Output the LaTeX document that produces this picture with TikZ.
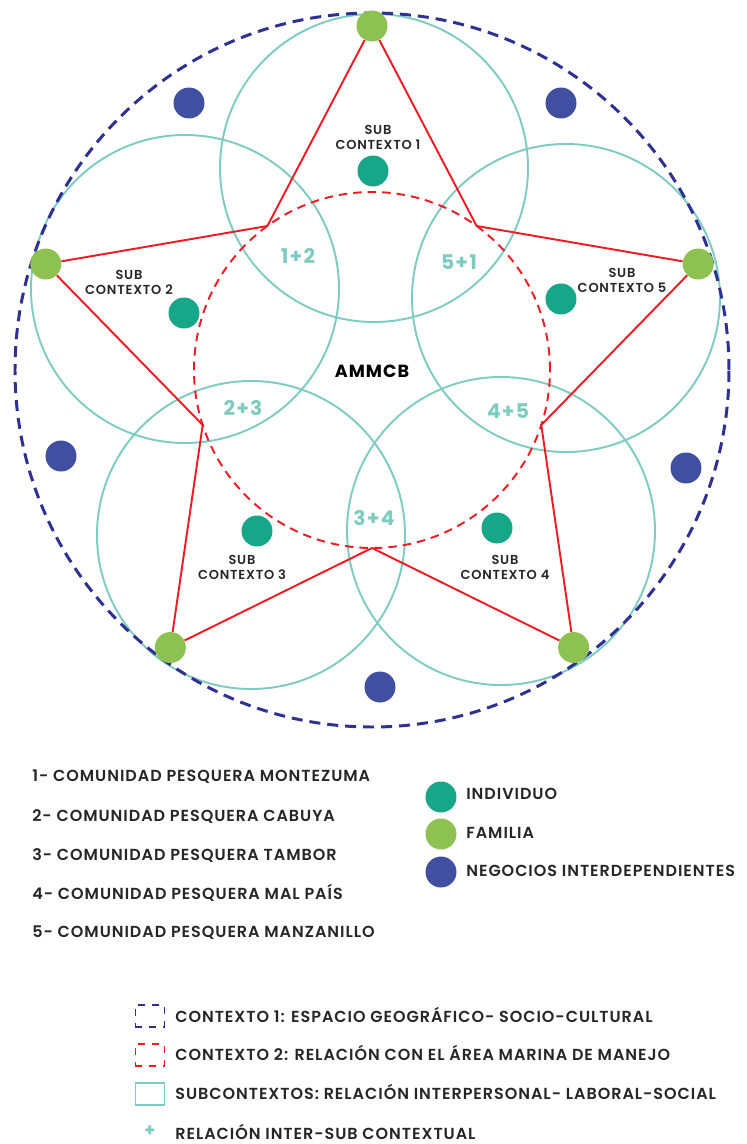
\documentclass[tikz,border=0pt]{standalone}
\usepackage{fontspec}
\setmainfont{Poppins}[UprightFont={* SemiBold},BoldFont={* Bold},LetterSpace=6]
\definecolor{ctxblue}{RGB}{46,49,146}
\definecolor{ctxred}{RGB}{237,28,36}
\definecolor{subteal}{RGB}{126,204,192}
\definecolor{indteal}{RGB}{24,166,136}
\definecolor{famgreen}{RGB}{141,193,82}
\definecolor{negblue}{RGB}{64,79,160}
\begin{document}
\begin{tikzpicture}[x=0.02cm,y=0.02cm]
    \tikzstyle{every node}=[font=\fontsize{9.1}{10}\selectfont,text=black!85];
    \tikzstyle{subc}=[draw=subteal,line width=1.1pt];
    \tikzstyle{ctxone}=[draw=ctxblue,line width=1.7pt,dash pattern=on 0.22cm off 0.14cm];
    \tikzstyle{ctxtwo}=[draw=ctxred,line width=1.1pt,dash pattern=on 0.17cm off 0.12cm];
    \tikzstyle{star}=[draw=ctxred,line width=1.1pt];
    \tikzstyle{dot}=[circle,minimum size=0.62cm,inner sep=0pt];
    \tikzstyle{indiv}=[dot,fill=indteal];
    \tikzstyle{fam}=[dot,fill=famgreen];
    \tikzstyle{neg}=[dot,fill=negblue];
    \tikzstyle{pair}=[text=subteal,font=\bfseries\fontsize{11.5}{12}\selectfont];
    \tikzstyle{sublbl}=[align=center,font=\fontsize{7.4}{8.5}\selectfont];
    \tikzstyle{legtxt}=[anchor=base west,inner sep=0pt];
    \tikzstyle{legbox}=[minimum width=0.58cm,minimum height=0.44cm,inner sep=0pt];

    \useasboundingbox (-372,-774) rectangle (375,370);

    % subcontexts
    \draw[subc] (2,202) circle (154);
    \draw[subc] (-187,81) circle (154);
    \draw[subc] (-121,-165) circle (154);
    \draw[subc] (129,-161) circle (154);
    \draw[subc] (194,72) circle (154);

    % contexts 1 and 2
    \draw[ctxtwo] (0,0) circle (178);
    \draw[ctxone] (0,0) circle (357);

    % star
    \node at (90:344) (f1) [fam] {};
    \node at (162:343) (f2) [fam] {};
    \node at (234:343) (f3) [fam] {};
    \node at (306:343) (f4) [fam] {};
    \node at (18:343) (f5) [fam] {};
    \coordinate (k12) at (126:178);
    \coordinate (k23) at (198:178);
    \coordinate (k34) at (270:178);
    \coordinate (k45) at (342:178);
    \coordinate (k51) at (54:178);
    \draw[star] (f1) -- (k12) -- (f2);
    \draw[star] (f2) -- (k23) -- (f3);
    \draw[star] (f3) -- (k34) -- (f4);
    \draw[star] (f4) -- (k45) -- (f5);
    \draw[star] (f5) -- (k51) -- (f1);

    \node at (1,199) (i1) [indiv] {};
    \node at (-188,57) (i2) [indiv] {};
    \node at (-115,-161) (i3) [indiv] {};
    \node at (125,-158) (i4) [indiv] {};
    \node at (189,71) (i5) [indiv] {};

    \node at (-183,267) (n1) [neg] {};
    \node at (189,267) (n2) [neg] {};
    \node at (-311,-86) (n3) [neg] {};
    \node at (314,-98) (n4) [neg] {};
    \node at (8,-317) (n5) [neg] {};

    \node at (6,233) (s1) [sublbl] {SUB\\CONTEXTO 1};
    \node at (-243,88) (s2) [sublbl] {SUB\\CONTEXTO 2};
    \node at (250,90) (s5) [sublbl] {SUB\\CONTEXTO 5};
    \node at (-130,-197) (s3) [sublbl] {SUB\\CONTEXTO 3};
    \node at (133,-197) (s4) [sublbl] {SUB\\CONTEXTO 4};

    \node at (-74,114) (p12) [pair] {1+2};
    \node at (87,108) (p51) [pair] {5+1};
    \node at (-129,-38) (p23) [pair] {2+3};
    \node at (136,-41) (p45) [pair] {4+5};
    \node at (2,-148) (p34) [pair] {3+4};
    \node at (0,-1) (amm) [font=\bfseries\fontsize{10}{12}\selectfont,text=black] {AMMCB};

    % communities
    \node at (-340,-411) (c1) [legtxt] {1- COMUNIDAD PESQUERA MONTEZUMA};
    \node at (-340,-451) (c2) [legtxt] {2- COMUNIDAD PESQUERA CABUYA};
    \node at (-340,-490) (c3) [legtxt] {3- COMUNIDAD PESQUERA TAMBOR};
    \node at (-340,-529) (c4) [legtxt] {4- COMUNIDAD PESQUERA MAL PAÍS};
    \node at (-340,-567) (c5) [legtxt] {5- COMUNIDAD PESQUERA MANZANILLO};

    \node at (69,-427) (li) [indiv] {};
    \node at (69,-464) (lf) [fam] {};
    \node at (69,-502) (ln) [neg] {};
    \node at (94,-429) (ti) [legtxt] {INDIVIDUO};
    \node at (94,-468) (tf) [legtxt] {FAMILIA};
    \node at (94,-506) (tn) [legtxt] {NEGOCIOS INTERDEPENDIENTES};

    % contexts legend
    \node at (-222,-646) (b1) [legbox,draw=ctxblue,line width=1.1pt,dash pattern=on 0.14cm off 0.14cm] {};
    \node at (-222,-685) (b2) [legbox,draw=ctxred,line width=1.1pt,dash pattern=on 0.14cm off 0.14cm] {};
    \node at (-222,-724) (b3) [legbox,draw=subteal,line width=1.1pt] {};
    \node at (-222,-761) (b4) [text=subteal,font=\bfseries\fontsize{10}{10}\selectfont] {+};
    \node at (-197,-652) (t1) [legtxt] {CONTEXTO 1: ESPACIO GEOGRÁFICO- SOCIO-CULTURAL};
    \node at (-197,-690) (t2) [legtxt] {CONTEXTO 2: RELACIÓN CON EL ÁREA MARINA DE MANEJO};
    \node at (-197,-729) (t3) [legtxt] {SUBCONTEXTOS: RELACIÓN INTERPERSONAL- LABORAL-SOCIAL};
    \node at (-197,-769) (t4) [legtxt] {RELACIÓN INTER-SUB CONTEXTUAL};
\end{tikzpicture}
\end{document}
